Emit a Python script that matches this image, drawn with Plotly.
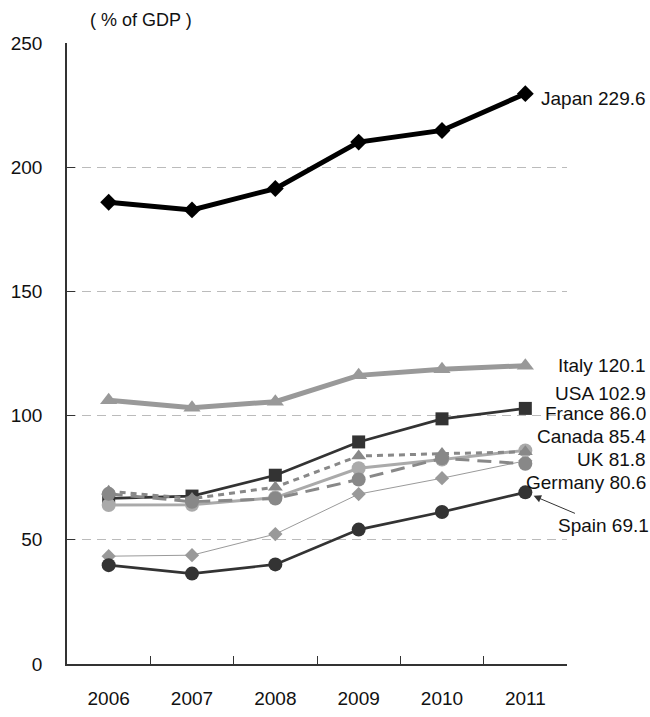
import plotly.graph_objects as go

# General government gross debt, % of GDP
years = ["2006", "2007", "2008", "2009", "2010", "2011"]

japan = [185.9, 182.8, 191.4, 210.1, 214.8, 229.6]
italy = [106.2, 103.2, 105.6, 116.2, 118.7, 120.1]
usa = [66.7, 67.6, 76.0, 89.4, 98.7, 102.9]
france = [64.0, 64.1, 67.0, 78.8, 82.3, 86.0]
canada = [69.5, 66.6, 71.2, 83.7, 84.7, 85.4]
uk = [43.4, 43.8, 52.3, 68.4, 74.8, 81.8]
germany = [68.5, 65.3, 66.6, 74.3, 82.8, 80.6]
spain = [39.8, 36.4, 40.1, 54.1, 61.2, 69.1]

y_ticks = [0, 50, 100, 150, 200, 250]

FONT = "Liberation Sans, Arial, sans-serif"
TEXT = "#111111"

series = [
    # name, values, line colour, width, dash, marker symbol, marker colour, marker size
    ("USA", usa, "#333333", 2.7, "solid", "square", "#333333", 13),
    ("Japan", japan, "#000000", 5, "solid", "diamond", "#000000", 13),
    ("Italy", italy, "#999999", 5, "solid", "triangle-up", "#999999", 15),
    ("UK", uk, "#9a9a9a", 1, "solid", "diamond", "#999999", 11),
    ("France", france, "#aaaaaa", 3, "solid", "circle", "#aaaaaa", 14),
    ("Canada", canada, "#888888", 3, "6px,5px", "triangle-up", "#888888", 13),
    ("Germany", germany, "#888888", 3, "14px,8px", "circle", "#888888", 14),
    ("Spain", spain, "#333333", 2.7, "solid", "circle", "#333333", 14),
]

fig = go.Figure()
for name, vals, lc, lw, dash, sym, mc, ms in series:
    fig.add_trace(go.Scatter(
        x=years, y=vals, name=name, mode="lines+markers",
        line=dict(color=lc, width=lw, dash=dash),
        marker=dict(symbol=sym, color=mc, size=ms, line=dict(width=0)),
        showlegend=False, cliponaxis=False,
    ))

# End-of-line labels: (text, label height in data units)
end_labels = [
    ("Japan 229.6", 227.6),
    ("Italy 120.1", 120.2),
    ("USA 102.9", 109.0),
    ("France 86.0", 100.9),
    ("Canada 85.4", 91.7),
    ("UK 81.8", 82.4),
    ("Germany 80.6", 73.2),
]
for text, yv in end_labels:
    fig.add_annotation(
        x=1.162, xref="paper", y=yv, yref="y", text=text, showarrow=False,
        xanchor="right", yanchor="middle",
        font=dict(family=FONT, size=19, color=TEXT),
    )

# Spain label with a pointer to its last point (x given as category index)
last = len(years) - 1
fig.add_annotation(
    x=last, y=spain[last], xref="x", yref="y", text="Spain 69.1",
    showarrow=True, axref="pixel", ayref="pixel", ax=78, ay=33,
    arrowhead=2, arrowsize=1.5, arrowwidth=1, arrowcolor="#333333",
    standoff=9, font=dict(family=FONT, size=19, color=TEXT),
)

fig.add_annotation(
    x=0.042, xref="paper", y=1.037, yref="paper", text="( % of GDP )",
    showarrow=False, xanchor="left", yanchor="middle",
    font=dict(family=FONT, size=18, color=TEXT),
)

fig.update_xaxes(
    type="category", tickson="boundaries", ticks="inside", ticklen=8,
    tickcolor="#333333", showline=True, linecolor="#333333", linewidth=1.5,
    showgrid=False, tickfont=dict(family=FONT, size=19, color=TEXT),
    ticklabelstandoff=16, range=[-0.5, 5.5], automargin=False,
)
fig.update_yaxes(
    range=[0, 250], tickvals=y_ticks, ticks="inside", ticklen=8,
    tickcolor="#333333", showline=True, linecolor="#333333", linewidth=1.5,
    showgrid=True, gridcolor="#bbbbbb", gridwidth=1.2, griddash="9px,6px",
    zeroline=False, tickfont=dict(family=FONT, size=19, color=TEXT),
    ticklabelstandoff=19, automargin=False,
)

fig.update_layout(
    width=650, height=717,
    margin=dict(l=67, r=83, t=43, b=53),
    plot_bgcolor="white", paper_bgcolor="white",
    font=dict(family=FONT),
)

fig.write_html("out.html")
